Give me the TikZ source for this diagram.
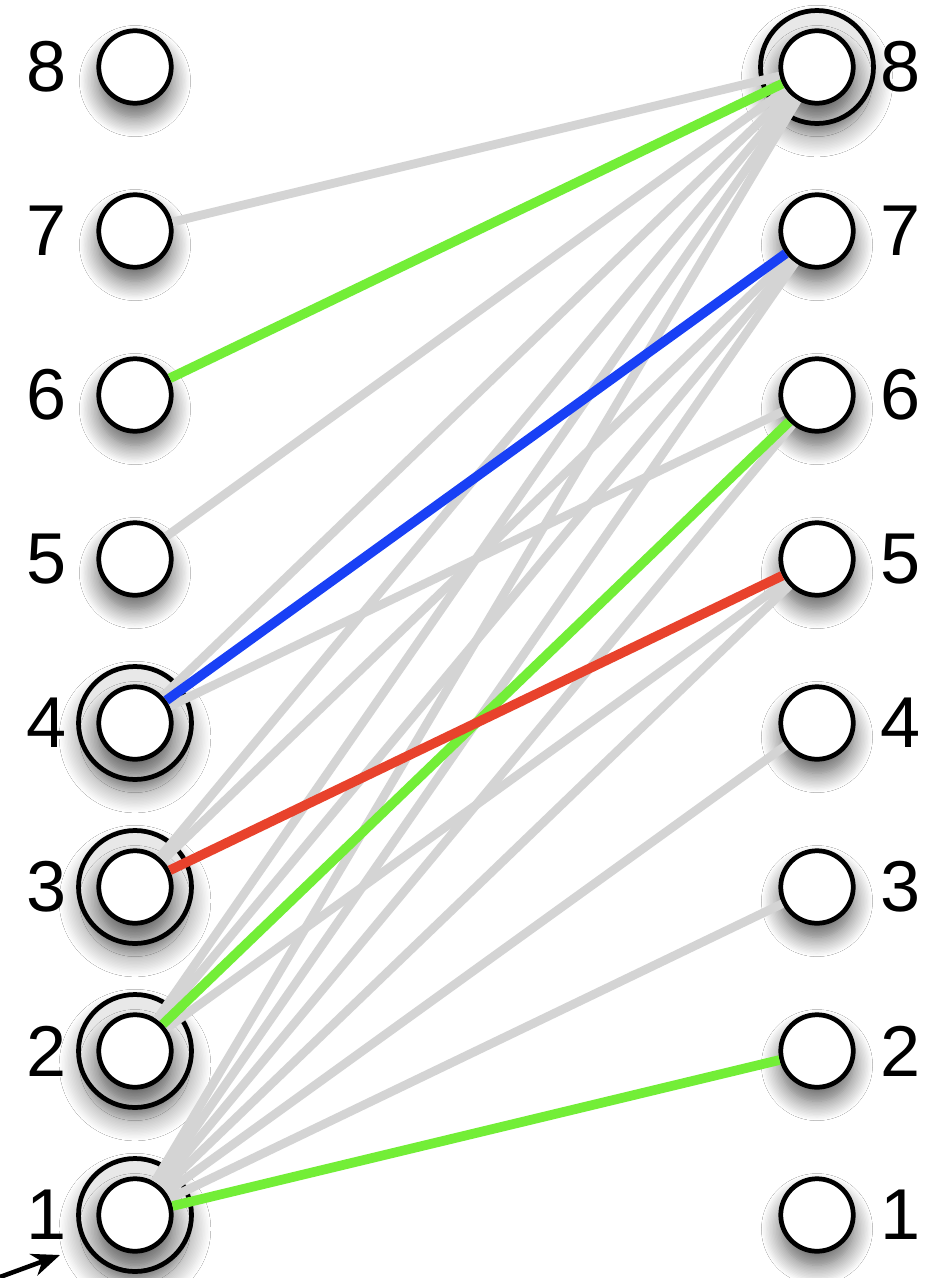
\documentclass[tikz,border=0pt]{standalone}
\usepackage{fontspec}
\setmainfont{Liberation Sans}
\usetikzlibrary{arrows.meta,shadows.blur}
\definecolor{edgegray}{RGB}{212,212,212}
\definecolor{cgreen}{RGB}{115,238,55}
\definecolor{cblue}{RGB}{25,64,245}
\definecolor{cred}{RGB}{232,66,44}
\newcommand{\labfont}{\fontsize{41pt}{41pt}\selectfont}
\tikzset{
  vtx/.style={circle, draw=black, line width=2.7pt, fill=white, minimum size=1.45cm, inner sep=0pt,
    blur shadow={shadow xshift=0pt, shadow yshift=-8pt, shadow blur radius=11pt, shadow blur steps=14, shadow opacity=65}},
  ring/.style={circle, draw=black, line width=2.7pt, fill=gray!18, minimum size=2.26cm, inner sep=0pt,
    blur shadow={shadow xshift=0pt, shadow yshift=-8pt, shadow blur radius=11pt, shadow blur steps=14, shadow opacity=45}},
  lab/.style={font=\labfont, text=black, inner sep=0pt},
  ge/.style={draw=edgegray, line width=5pt},
  ce/.style={line width=5.5pt},
  pointer/.style={draw=black, line width=2.6pt, -{Stealth[length=16pt, width=13pt]}},
}
\begin{document}
\begin{tikzpicture}[x=0.02cm, y=-0.02cm]
  \path[use as bounding box, fill=white] (0,0) rectangle (949,1278);
  % outer rings (selected nodes)
  \foreach \k in {1,2,3,4} {
    \node[ring] (LR\k) at (135,{67+(8-\k)*164}) {};
  }
  \node[ring] (RR8) at (817,67) {};
  % vertices
  \foreach \k in {1,...,8} {
    \node[vtx] (L\k) at (135,{67+(8-\k)*164}) {};
    \node[vtx] (R\k) at (817,{67+(8-\k)*164}) {};
    \node[lab] (lL\k) at (47,{67+(8-\k)*164}) {\k};
    \node[lab] (lR\k) at (901,{67+(8-\k)*164}) {\k};
  }
  % gray edges
  \draw[ge] (L7) -- (R8);
  \draw[ge] (L5) -- (R8);
  \draw[ge] (L4) -- (R8);
  \draw[ge] (L4) -- (R6);
  \draw[ge] (L3) -- (R8);
  \draw[ge] (L3) -- (R7);
  \draw[ge] (L2) -- (R8);
  \draw[ge] (L2) -- (R7);
  \draw[ge] (L2) -- (R5);
  \draw[ge] (L1) -- (R8);
  \draw[ge] (L1) -- (R7);
  \draw[ge] (L1) -- (R6);
  \draw[ge] (L1) -- (R5);
  \draw[ge] (L1) -- (R4);
  \draw[ge] (L1) -- (R3);
  % coloured edges
  \draw[ce, cgreen] (L6) -- (R8);
  \draw[ce, cblue] (L4) -- (R7);
  \draw[ce, cgreen] (L2) -- (R6);
  \draw[ce, cred] (L3) -- (R5);
  \draw[ce, cgreen] (L1) -- (R2);
  % pointer arrow
  \coordinate (p0) at (0,1277);
  \coordinate (p1) at (60,1255);
  \draw[pointer] (p0) -- (p1);
\end{tikzpicture}
\end{document}
